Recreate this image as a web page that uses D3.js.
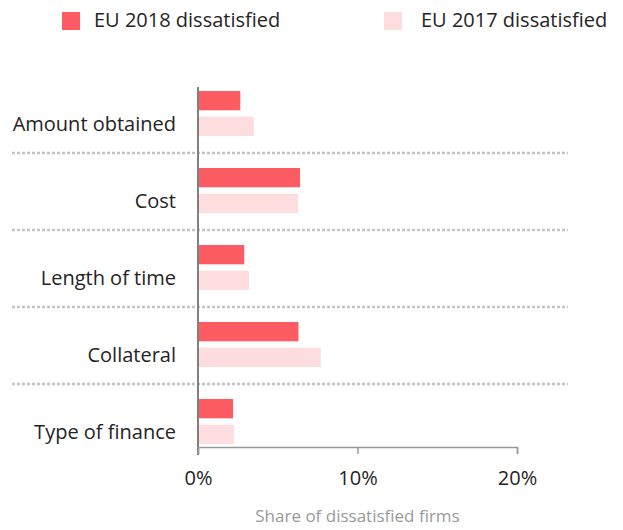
<html lang="en">
<head>
<meta charset="utf-8">
<title>Dissatisfied firms</title>
<style>
  body { margin: 0; background: #fff; }
  svg text { font-family: "Open Sans", "Noto Sans", sans-serif; }
  .lbl { font-size: 20px; fill: #252423; }
  .legtxt { font-size: 20px; fill: #252423; }
  .tick text { font-size: 20px; fill: #252423; }
  .axtitle { font-size: 17px; fill: #999; }
</style>
</head>
<body>
<svg id="chart" width="623" height="530"></svg>
<script src="https://d3js.org/d3.v7.min.js"></script>
<script>
// data
var categories = ["Amount obtained", "Cost", "Length of time", "Collateral", "Type of finance"];
var seriesNames = ["EU 2018 dissatisfied", "EU 2017 dissatisfied"];
var eu2018 = [2.65, 6.4, 2.9, 6.3, 2.2];
var eu2017 = [3.5, 6.27, 3.2, 7.7, 2.25];
var xTicks = [0, 10, 20];
var colors = ["#FD5C63", "#FEDDDF"];

var svg = d3.select("#chart");
var rows = categories.map((c, i) => ({ cat: c, vals: [eu2018[i], eu2017[i]] }));

var x = d3.scaleLinear().domain([0, 20]).range([198, 517]);
var y = d3.scaleBand().domain(categories).range([84, 469]);
var yIn = d3.scaleBand().domain(seriesNames).range([7, 52]).paddingInner(0.25);

// separators between categories
svg.selectAll(".sep")
    .data(categories.slice(1))
    .enter().append("line")
    .attr("class", "sep")
    .attr("x1", 12).attr("x2", 568)
    .attr("y1", d => y(d) - 8).attr("y2", d => y(d) - 8)
    .attr("stroke", "#c4c4c4")
    .attr("stroke-width", 2.5)
    .attr("stroke-dasharray", "3,2");

// bars
var g = svg.selectAll(".grp")
    .data(rows)
    .enter().append("g")
    .attr("transform", d => "translate(0," + y(d.cat) + ")");

g.selectAll("rect")
    .data(d => d.vals.map((v, i) => ({ s: seriesNames[i], v: v, i: i })))
    .enter().append("rect")
    .attr("x", x(0) + 1)
    .attr("y", d => yIn(d.s))
    .attr("width", d => x(d.v) - x(0) - 1)
    .attr("height", yIn.bandwidth())
    .attr("fill", d => colors[d.i]);

// category labels, centred on the second bar
g.append("text")
    .attr("class", "lbl")
    .attr("x", 176)
    .attr("y", yIn(seriesNames[1]) + yIn.bandwidth() / 2 - 2)
    .attr("dy", "0.35em")
    .attr("text-anchor", "end")
    .text(d => d.cat);

// axes
svg.append("line")
    .attr("x1", x(0)).attr("x2", x(0))
    .attr("y1", 87).attr("y2", 455)
    .attr("stroke", "#808080").attr("stroke-width", 2);

var xAxis = svg.append("g")
    .attr("transform", "translate(0,447)")
    .call(d3.axisBottom(x).tickValues(xTicks).tickFormat(d => d + "%").tickSize(7));
xAxis.select(".domain").attr("stroke", "#999").attr("stroke-width", 1.5);
xAxis.selectAll(".tick line").attr("stroke", "#999").attr("stroke-width", 1.5);
xAxis.selectAll(".tick text").attr("y", 24).attr("dy", "0.71em");

svg.append("text")
    .attr("class", "axtitle")
    .attr("x", x(10)).attr("y", 522)
    .attr("text-anchor", "middle")
    .text("Share of dissatisfied firms");

// legend
var legBox = [62, 384];
var legText = [94, 421];
var leg = svg.selectAll(".leg")
    .data(seriesNames)
    .enter().append("g");
leg.append("rect")
    .attr("x", (d, i) => legBox[i]).attr("y", 12)
    .attr("width", 18).attr("height", 18)
    .attr("fill", (d, i) => colors[i]);
leg.append("text")
    .attr("class", "legtxt")
    .attr("x", (d, i) => legText[i]).attr("y", 26.5)
    .text(d => d);
</script>
</body>
</html>
